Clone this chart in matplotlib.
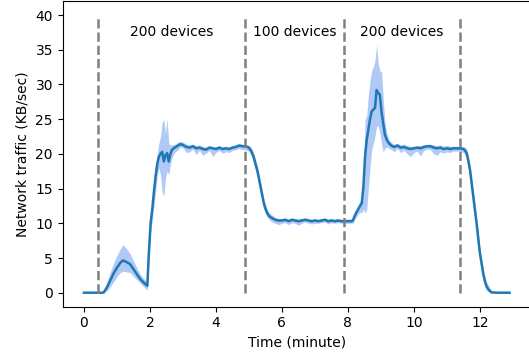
import numpy as np
import matplotlib
matplotlib.use('Agg')
import matplotlib.pyplot as plt

# time (minute), mean traffic and the band around it (KB/sec)
t = [0.0, 0.3, 0.55, 0.6, 0.7, 0.8, 0.9, 1.0, 1.1, 1.18, 1.3, 1.4, 1.5, 1.6, 1.7, 1.8, 1.92,
     1.97, 2.02, 2.07, 2.12, 2.17, 2.22, 2.27, 2.32, 2.37, 2.42, 2.47, 2.52, 2.57, 2.62, 2.67,
     2.75, 2.85, 2.92, 3.0, 3.1, 3.2, 3.3, 3.4, 3.5, 3.6, 3.7, 3.8, 3.9, 4.0, 4.1, 4.2, 4.3,
     4.4, 4.5, 4.6, 4.7, 4.8, 4.9, 5.0, 5.07, 5.14, 5.2, 5.25, 5.3, 5.35, 5.4, 5.45, 5.5,
     5.55, 5.62, 5.7, 5.8, 5.9, 6.0, 6.1, 6.2, 6.3, 6.4, 6.5, 6.6, 6.7, 6.8, 6.9, 7.0, 7.1,
     7.2, 7.3, 7.4, 7.5, 7.6, 7.7, 7.8, 7.9, 8.0, 8.1, 8.15, 8.2, 8.25, 8.32, 8.38, 8.42,
     8.47, 8.52, 8.57, 8.62, 8.67, 8.72, 8.77, 8.82, 8.87, 8.92, 8.97, 9.02, 9.07, 9.12,
     9.18, 9.25, 9.33, 9.4, 9.5, 9.6, 9.7, 9.8, 9.9, 10.0, 10.1, 10.2, 10.3, 10.4, 10.5,
     10.6, 10.7, 10.8, 10.9, 11.0, 11.1, 11.2, 11.3, 11.4, 11.5, 11.55, 11.6, 11.65, 11.7,
     11.75, 11.8, 11.85, 11.9, 11.95, 12.0, 12.05, 12.1, 12.15, 12.2, 12.27, 12.35, 12.5, 12.9]

mean = [0, 0, 0, 0.05, 0.8, 1.8, 2.8, 3.6, 4.3, 4.65, 4.4, 4.1, 3.4, 2.7, 2.0, 1.5, 1.0,
        6.0, 10.0, 12.0, 14.5, 16.7, 18.5, 19.6, 20.0, 20.3, 18.9, 19.8, 20.1, 18.9, 20.0, 20.6,
        20.9, 21.2, 21.4, 21.3, 21.0, 20.9, 21.1, 20.8, 20.9, 20.7, 20.6, 20.9, 20.8, 20.7, 20.9, 20.7, 20.8,
        20.7, 20.9, 21.0, 21.2, 21.1, 21.1, 20.9, 20.4, 19.6, 18.5, 17.7, 16.5, 15.3, 14.1, 12.9, 12.1,
        11.5, 11.0, 10.75, 10.5, 10.4, 10.4, 10.5, 10.3, 10.5, 10.4, 10.3, 10.4, 10.5, 10.4, 10.3, 10.4, 10.3,
        10.4, 10.5, 10.3, 10.4, 10.3, 10.4, 10.3, 10.3, 10.3, 10.3, 10.4, 11.0, 11.5, 12.1, 12.6, 12.9,
        15.3, 19.6, 22.0, 23.5, 25.0, 26.1, 26.4, 26.6, 29.2, 28.8, 28.5, 26.0, 24.4, 22.8,
        22.0, 21.5, 21.15, 21.0, 21.2, 20.9, 21.0, 20.8, 20.7, 20.8, 20.9, 20.8, 21.0, 21.1, 21.1,
        20.9, 20.8, 20.9, 20.7, 20.8, 20.7, 20.8, 20.8, 20.8, 20.7, 20.5, 20.1, 19.0, 17.7,
        15.8, 13.9, 12.0, 10.0, 7.8, 5.7, 4.2, 2.8, 1.7, 0.9, 0.4, 0.05, 0, 0]

low = [0, 0, 0, 0, 0.3, 0.9, 1.6, 2.3, 2.9, 3.1, 3.0, 2.9, 2.4, 1.9, 1.4, 0.9, 0.4,
       4.5, 8.5, 10.5, 12.5, 14.5, 16.8, 18.0, 17.0, 14.5, 13.9, 16.5, 17.5, 17.0, 18.5, 19.5,
       20.2, 20.6, 21.0, 20.9, 20.2, 20.3, 20.7, 19.9, 20.5, 19.8, 20.1, 20.5, 19.6, 20.2, 20.5, 20.1, 20.3,
       20.2, 20.5, 20.6, 20.8, 20.6, 20.6, 20.4, 19.8, 18.9, 17.6, 16.8, 15.6, 14.5, 13.3, 12.2, 11.4,
       10.9, 10.5, 10.2, 10.0, 9.8, 10.0, 10.1, 9.8, 10.1, 10.0, 9.7, 10.0, 10.2, 10.0, 9.9, 10.0, 10.0,
       10.1, 10.2, 9.9, 10.1, 10.0, 10.1, 10.0, 10.0, 10.0, 10.0, 10.0, 10.5, 10.9, 11.4, 11.6, 11.5,
       12.0, 11.5, 12.0, 15.0, 18.0, 20.6, 21.5, 22.5, 24.0, 24.0, 23.0, 21.5, 20.3, 20.8,
       21.0, 20.8, 20.6, 20.3, 20.8, 20.2, 20.5, 20.0, 19.6, 20.2, 20.4, 19.7, 20.5, 20.7, 20.6,
       20.0, 19.8, 20.3, 20.1, 20.3, 20.2, 20.4, 20.4, 20.4, 20.2, 19.9, 19.4, 18.2, 16.8,
       14.9, 13.0, 11.1, 9.2, 7.0, 5.0, 3.5, 2.2, 1.1, 0.4, 0.1, 0, 0, 0]

high = [0, 0, 0, 0.3, 1.6, 3.0, 4.3, 5.4, 6.3, 6.9, 6.3, 5.6, 4.6, 3.6, 2.7, 2.1, 1.5,
        8.0, 11.5, 13.5, 16.5, 18.5, 20.0, 21.5, 22.5, 24.5, 25.0, 23.0, 25.1, 21.5, 21.3, 21.3,
        21.4, 21.7, 21.8, 21.7, 21.4, 21.3, 21.4, 21.2, 21.3, 21.1, 21.0, 21.2, 21.1, 21.0, 21.2, 21.0, 21.1,
        21.0, 21.2, 21.3, 21.5, 21.4, 21.4, 21.2, 20.9, 20.2, 19.2, 18.5, 17.3, 16.1, 14.9, 13.6, 12.8,
        12.1, 11.5, 11.2, 10.8, 10.7, 10.7, 10.8, 10.6, 10.8, 10.7, 10.6, 10.7, 10.8, 10.7, 10.6, 10.7, 10.6,
        10.7, 10.8, 10.6, 10.7, 10.6, 10.7, 10.6, 10.6, 10.6, 10.6, 10.8, 11.5, 12.0, 12.7, 13.2, 14.0,
        18.0, 24.9, 25.5, 28.5, 30.5, 32.0, 32.5, 33.5, 35.7, 33.0, 32.0, 31.8, 28.0, 24.5,
        23.0, 22.0, 21.6, 21.4, 21.5, 21.3, 21.4, 21.2, 21.1, 21.1, 21.2, 21.2, 21.3, 21.4, 21.4,
        21.3, 21.2, 21.3, 21.1, 21.2, 21.1, 21.1, 21.1, 21.1, 21.0, 21.0, 20.7, 19.8, 18.6,
        16.7, 14.8, 12.9, 10.9, 8.7, 6.5, 5.0, 3.5, 2.4, 1.6, 1.0, 0.3, 0, 0]

changes = [0.43, 4.87, 7.88, 11.4]
labels = ['200 devices', '100 devices', '200 devices']

fig = plt.figure(figsize=(5.29, 3.52), dpi=100)
# right edge of the axes sits just past the image border, as in the original
ax = fig.add_axes([0.1185, 0.129, 0.885, 0.8676])

ax.fill_between(t, low, high, color='cornflowerblue', alpha=0.5, linewidth=0)
ax.plot(t, mean, color='#1f77b4', linewidth=1.8)

ax.vlines(changes, 0, 40, colors='gray', linestyles='dashed', linewidth=1.8)
for i, lab in enumerate(labels):
    ax.text((changes[i] + changes[i + 1]) / 2, 37.5, lab, ha='center', va='center', fontsize=10)

ax.set_yticks(range(0, 41, 5))
ax.set_xticks(range(0, 13, 2))
ax.set_xlabel('Time (minute)')
ax.set_ylabel('Network traffic (KB/sec)')

fig.savefig('out.png', dpi=100)
